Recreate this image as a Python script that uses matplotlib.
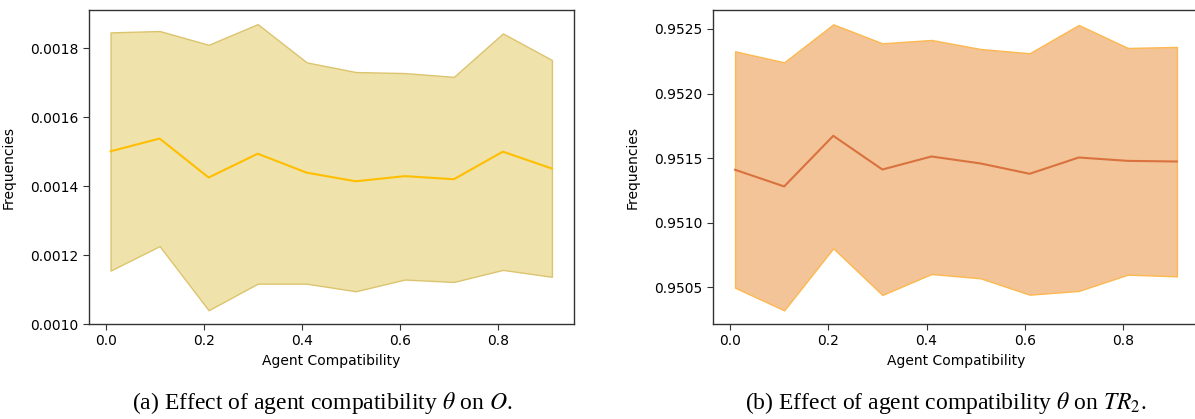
import matplotlib
matplotlib.use("Agg")
import matplotlib.pyplot as plt

# agent compatibility values
theta = [0.01, 0.11, 0.21, 0.31, 0.41, 0.51, 0.61, 0.71, 0.81, 0.91]

# (a) O
o_mean = [0.001501, 0.001538, 0.001425, 0.001494, 0.001439, 0.001414, 0.001429, 0.001420, 0.001500, 0.001451]
o_upper = [0.001846, 0.001850, 0.001810, 0.001870, 0.001759, 0.001731, 0.001728, 0.001717, 0.001843, 0.001766]
o_lower = [0.001155, 0.001226, 0.001040, 0.001117, 0.001117, 0.001095, 0.001129, 0.001122, 0.001157, 0.001137]

# (b) TR2
tr_mean = [0.951410, 0.951281, 0.951673, 0.951412, 0.951513, 0.951459, 0.951379, 0.951505, 0.951479, 0.951474]
tr_upper = [0.952327, 0.952242, 0.952536, 0.952389, 0.952415, 0.952345, 0.952312, 0.952531, 0.952353, 0.952361]
tr_lower = [0.950497, 0.950322, 0.950802, 0.950441, 0.950603, 0.950570, 0.950443, 0.950472, 0.950598, 0.950585]

xticks = [0.0, 0.2, 0.4, 0.6, 0.8]

W, H = 1195, 419
fig = plt.figure(figsize=(W / 100, H / 100), dpi=100)
plt.rcParams['mathtext.fontset'] = 'stix'

def box(l, t, r, b):
    return [l / W, 1 - b / H, (r - l) / W, (b - t) / H]

ax1 = fig.add_axes(box(88.5, 10, 574, 324))
ax2 = fig.add_axes(box(713, 10, 1199, 324))  # right edge cropped like the reference

# left panel
ax1.fill_between(theta, o_lower, o_upper, facecolor='#EFE3AB', edgecolor='#DCC46E', linewidth=1.0)
ax1.plot(theta, o_mean, color='#FFBE00', linewidth=1.5)
ax1.set_ylim(0.0010, 0.001911)
ax1.set_yticks([0.0010, 0.0012, 0.0014, 0.0016, 0.0018])
ax1.set_yticklabels(['0.0010', '0.0012', '0.0014', '0.0016', '0.0018'])

# right panel
ax2.fill_between(theta, tr_lower, tr_upper, facecolor='#F3C497', edgecolor='#FDB850', linewidth=1.0)
ax2.plot(theta, tr_mean, color='#D9723F', linewidth=1.5)
ax2.set_ylim(0.950216, 0.952647)
ax2.set_yticks([0.9505, 0.9510, 0.9515, 0.9520, 0.9525])
ax2.set_yticklabels(['0.9505', '0.9510', '0.9515', '0.9520', '0.9525'])

for ax in (ax1, ax2):
    ax.set_xlim(-0.035, 0.955)
    ax.set_xticks(xticks)
    ax.set_xticklabels(['0.0', '0.2', '0.4', '0.6', '0.8'])
    ax.tick_params(labelsize=10, color='#333333', length=4)
    for s in ax.spines.values():
        s.set_color('#333333')
        s.set_linewidth(1.0)
    ax.set_xlabel('Agent Compatibility', fontsize=10)
    ax.set_ylabel('Frequencies', fontsize=10)

ax1.yaxis.set_label_coords(-(88.5 - 16) / 485.5, 0.5)
ax2.yaxis.set_label_coords(-(713 - 640) / 486, 0.5)
ax1.xaxis.set_label_coords(0.5, -30 / 314)
ax2.xaxis.set_label_coords(0.5, -30 / 314)

fig.text(322 / W, 1 - 403 / H, r'(a) Effect of agent compatibility $\theta$ on $O$.',
         fontsize=17, family='Liberation Serif', ha='center', va='center')
fig.text(946 / W, 1 - 403 / H, r'(b) Effect of agent compatibility $\theta$ on $TR_2$.',
         fontsize=17, family='Liberation Serif', ha='center', va='center')

fig.savefig('out.png', dpi=100)
